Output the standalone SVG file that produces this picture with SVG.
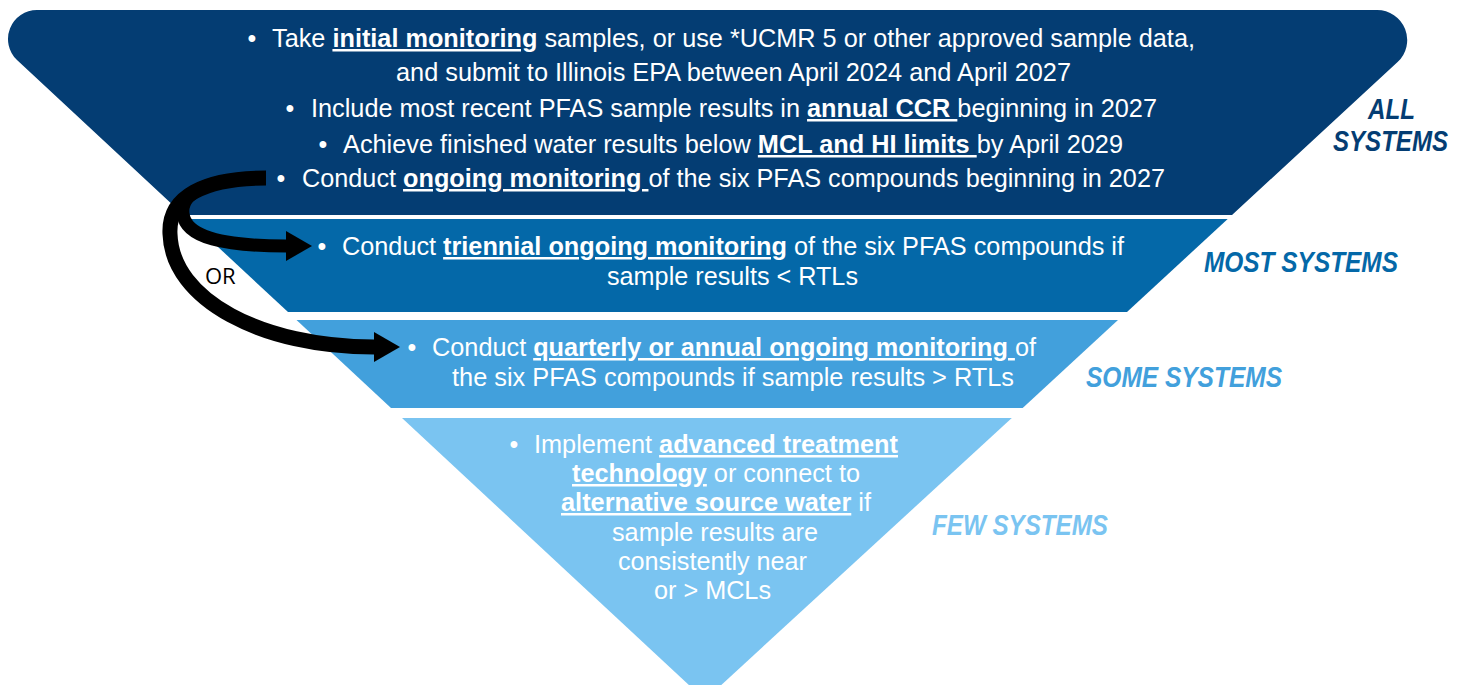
<svg xmlns="http://www.w3.org/2000/svg" width="1466" height="685" viewBox="0 0 1466 685">
<style>
.t{font-family:"Liberation Sans",Arial,sans-serif;font-size:25px;fill:#ffffff}
.b{font-weight:bold;text-decoration:underline}
.lbl{font-family:"Liberation Sans",Arial,sans-serif;font-weight:bold;font-style:italic;font-size:29px}
.arr{fill:none;stroke:#000000;stroke-linecap:butt}
</style>
<defs>
<marker id="ah" markerUnits="userSpaceOnUse" markerWidth="28" markerHeight="32" refX="0" refY="15" orient="auto">
<path d="M0,0 L26,15 L0,30 Z" fill="#000000"/>
</marker>
</defs>
<rect width="1466" height="685" fill="#ffffff"/>

<g id="all-systems">
<path d="M37,10 H1377 A30,30 0 0 1 1397.6,62 L1232,215 H183.6 L17,60 A29,29 0 0 1 37,10 Z" fill="#043d73"/>
<text class="t" x="247.6" y="47">•</text>
<text class="t" x="272" y="47" textLength="923" lengthAdjust="spacingAndGlyphs">Take <tspan class="b">initial monitoring</tspan> samples, or use *UCMR 5 or other approved sample data,</text>
<text class="t" x="396" y="81" textLength="675" lengthAdjust="spacingAndGlyphs">and submit to Illinois EPA between April 2024 and April 2027</text>
<text class="t" x="285.6" y="117">•</text>
<text class="t" x="311" y="117" textLength="846" lengthAdjust="spacingAndGlyphs">Include most recent PFAS sample results in <tspan class="b">annual CCR </tspan>beginning in 2027</text>
<text class="t" x="318.6" y="153">•</text>
<text class="t" x="343" y="153" textLength="780" lengthAdjust="spacingAndGlyphs">Achieve finished water results below <tspan class="b">MCL and HI limits </tspan>by April 2029</text>
<text class="t" x="276.6" y="187">•</text>
<text class="t" x="302" y="187" textLength="863" lengthAdjust="spacingAndGlyphs">Conduct <tspan class="b">ongoing monitoring </tspan>of the six PFAS compounds beginning in 2027</text>
<text class="lbl" x="1368" y="119" fill="#043d73" textLength="47" lengthAdjust="spacingAndGlyphs">ALL</text>
<text class="lbl" x="1333" y="151" fill="#043d73" textLength="115" lengthAdjust="spacingAndGlyphs">SYSTEMS</text>
</g>

<g id="most-systems">
<path d="M187.9,219 H1227.7 L1127,312 H288 Z" fill="#0468a8"/>
<text class="t" x="317.6" y="255">•</text>
<text class="t" x="342" y="255" textLength="782" lengthAdjust="spacingAndGlyphs">Conduct <tspan class="b">triennial ongoing monitoring</tspan> of the six PFAS compounds if</text>
<text class="t" x="607" y="285" textLength="251" lengthAdjust="spacingAndGlyphs">sample results &lt; RTLs</text>
<text class="lbl" x="1204" y="272" fill="#0468a8" textLength="194" lengthAdjust="spacingAndGlyphs">MOST SYSTEMS</text>
</g>

<g id="some-systems">
<path d="M296.5,320 H1118 L1022.7,408 H391 Z" fill="#42a0dc"/>
<text class="t" x="407.6" y="356">•</text>
<text class="t" x="432" y="356" textLength="604" lengthAdjust="spacingAndGlyphs">Conduct <tspan class="b">quarterly or annual ongoing monitoring </tspan>of</text>
<text class="t" x="452" y="386" textLength="562" lengthAdjust="spacingAndGlyphs">the six PFAS compounds if sample results &gt; RTLs</text>
<text class="lbl" x="1086" y="387" fill="#42a0dc" textLength="196" lengthAdjust="spacingAndGlyphs">SOME SYSTEMS</text>
</g>

<g id="few-systems">
<path d="M402,418 H1011.8 L705,700 Z" fill="#7ac4f1"/>
<text class="t" x="509.6" y="453">•</text>
<text class="t" x="534" y="453" textLength="364" lengthAdjust="spacingAndGlyphs">Implement <tspan class="b">advanced treatment</tspan></text>
<text class="t" x="572" y="482" textLength="288" lengthAdjust="spacingAndGlyphs"><tspan class="b">technology</tspan> or connect to</text>
<text class="t" x="561" y="511" textLength="310" lengthAdjust="spacingAndGlyphs"><tspan class="b">alternative source water</tspan> if</text>
<text class="t" x="612" y="541" textLength="206" lengthAdjust="spacingAndGlyphs">sample results are</text>
<text class="t" x="618" y="570" textLength="189" lengthAdjust="spacingAndGlyphs">consistently near</text>
<text class="t" x="654" y="599" textLength="117" lengthAdjust="spacingAndGlyphs">or &gt; MCLs</text>
<text class="lbl" x="932" y="535" fill="#7ac4f1" textLength="176" lengthAdjust="spacingAndGlyphs">FEW SYSTEMS</text>
</g>

<g id="connectors">
<path class="arr" d="M266,178 C205,178 168,196 170,234 C172,300 262,347 374,347" stroke-width="15" marker-end="url(#ah)"/>
<path class="arr" d="M266,178 C210,178 180,192 183,214 C186,238 225,246 286,246" stroke-width="13" marker-end="url(#ah)"/>
<text x="205" y="284" font-family="'Open Sans','Liberation Sans',sans-serif" font-size="22" fill="#000000">OR</text>
</g>
</svg>
